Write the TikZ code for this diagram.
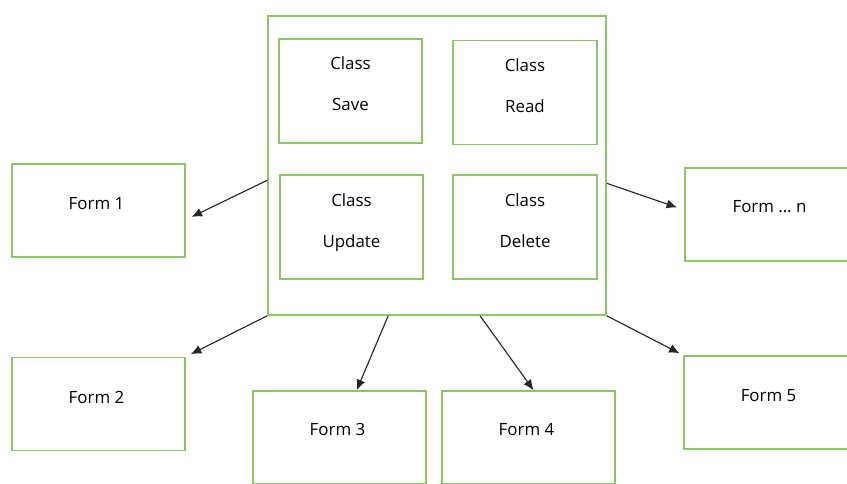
\documentclass[tikz,border=0pt]{standalone}
\usepackage{fontspec}
\setmainfont{Open Sans}
\usetikzlibrary{arrows.meta}
\definecolor{boxgreen}{RGB}{141,196,104}
\definecolor{arrowgray}{RGB}{38,38,38}

\begin{document}
\begin{tikzpicture}[x=0.025cm, y=-0.025cm,
		gbox/.style={draw=boxgreen, line width=1.2pt, fill=white, inner sep=0pt},
		classbox/.style={gbox, minimum width=3.59cm, minimum height=2.6cm},
		formbox/.style={gbox, minimum width=4.325cm, minimum height=2.325cm},
		txt/.style={font=\fontsize{12}{29}\selectfont, align=center, inner sep=0pt},
		conn/.style={-{Latex[length=2.6mm,width=2.3mm]}, draw=arrowgray, line width=0.8pt}]
			%%%%% START %%%%%
			
			\useasboundingbox (0, 0) rectangle (847, 484);
			\clip (0, 0) rectangle (847, 484);
			
			% centre block
			\node[gbox, minimum width=8.45cm, minimum height=7.475cm] (core) at (437, 165.5) {};
			
			\node[classbox] (save) at (350.5, 91) {};
			\node[txt] (savet) at ([yshift=0.19cm]save.center) {Class\\Save};
			\node[classbox] (read) at (525, 92.5) {};
			\node[txt] (readt) at ([yshift=0.17cm]read.center) {Class\\Read};
			\node[classbox] (update) at (351.5, 227) {};
			\node[txt] (updatet) at ([yshift=0.1cm]update.center) {Class\\Update};
			\node[classbox] (delete) at (525, 227) {};
			\node[txt] (deletet) at ([yshift=0.15cm]delete.center) {Class\\Delete};
			
			% forms
			\node[formbox] (form1) at (98.5, 210.5) {};
			\node[txt] (form1t) at ([xshift=-0.05cm, yshift=0.17cm]form1.center) {Form 1};
			\node[formbox] (formn) at (771.5, 214.5) {};
			\node[txt] (formnt) at ([xshift=-0.05cm, yshift=0.19cm]formn.center) {Form … n};
			\node[formbox] (form2) at (98.5, 404) {};
			\node[txt] (form2t) at ([xshift=-0.05cm, yshift=0.17cm]form2.center) {Form 2};
			\node[formbox] (form3) at (339.5, 437.5) {};
			\node[txt] (form3t) at ([xshift=-0.05cm, yshift=0.19cm]form3.center) {Form 3};
			\node[formbox] (form4) at (528.5, 437.5) {};
			\node[txt] (form4t) at ([xshift=-0.05cm, yshift=0.19cm]form4.center) {Form 4};
			\node[formbox] (form5) at (770.5, 402.5) {};
			\node[txt] (form5t) at ([xshift=-0.05cm, yshift=0.17cm]form5.center) {Form 5};
			
			% arrows
			\draw[conn, shorten >=0.16cm] (core.185) -- (form1.354);
			\draw[conn, shorten >=0.19cm] (core.354.5) -- (formn.177);
			\draw[conn, shorten >=0.14cm] (core.south west) -- (form2.north east);
			\draw[conn] (core.252) -- (form3.70);
			\draw[conn] (core.286) -- (form4.84);
			\draw[conn, shorten >=0.1cm] (core.south east) -- (form5.north west);
			
			%%%%% END %%%%%
		\end{tikzpicture}
\end{document}
